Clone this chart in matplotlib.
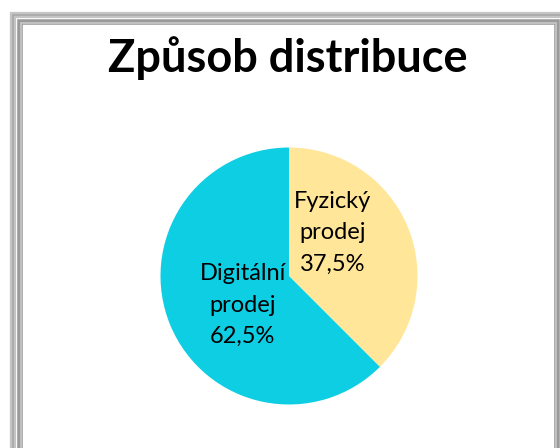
import matplotlib.pyplot as plt
from matplotlib.patches import Rectangle

plt.rcParams['font.family'] = ['Lato', 'DejaVu Sans']

title = "Způsob distribuce"
labels = ["Fyzický\nprodej", "Digitální\nprodej"]
values = [37.5, 62.5]
colors = ["#FFE699", "#0ECEE4"]

W, H = 560, 448
fig = plt.figure(figsize=(W / 100, H / 100), dpi=100)

# frame (pixel coords from top-left)
def px_rect(x0, y0, x1, y1, **kw):
    return Rectangle((x0 / W, 1 - y1 / H), (x1 - x0) / W, (y1 - y0) / H,
                     transform=fig.transFigure, fill=False, **kw)

fig.patches.append(px_rect(12.5, 14.5, 600, 520, edgecolor="#c4c4c4", linewidth=4.5))
fig.patches.append(px_rect(12.5, 14.5, 600, 520, edgecolor="#a8a8a8", linewidth=1.2))
fig.patches.append(px_rect(20, 22, 557, 520, edgecolor="#9a9a9a", linewidth=4))
fig.patches.append(px_rect(21, 23, 556, 520, edgecolor="#c8c8c8", linewidth=1.2))

fig.text(288 / W, 1 - 58 / H, title, ha="center", va="center",
         fontsize=32.5, fontweight="bold", color="black")

cx, cy, r = 289, 276, 128.5
ax = fig.add_axes([(cx - r) / W, 1 - (cy + r) / H, 2 * r / W, 2 * r / H])
texts = ax.pie(values, colors=colors, startangle=90, counterclock=False,
               labels=[f"{l}\n{v:.1f}%".replace(".", ",") for l, v in zip(labels, values)],
               labeldistance=0.45,
               textprops=dict(fontsize=17, ha="center", va="center", linespacing=1.6),
               wedgeprops=dict(linewidth=0))[1]
texts[0].set_position((0.34, 0.335))
texts[1].set_position((-0.36, -0.226))
ax.set_xlim(-1, 1)
ax.set_ylim(-1, 1)
ax.set_aspect("equal")
ax.axis("off")

fig.savefig("out.png", dpi=100)
